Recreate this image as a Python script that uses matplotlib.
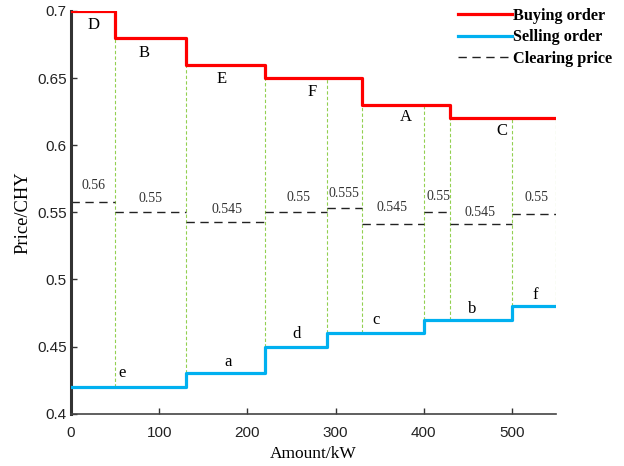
import matplotlib
matplotlib.use("Agg")
import matplotlib.pyplot as plt
import numpy as np

# Buying orders (step edges and prices)
buy_edges = [0, 50, 130, 220, 330, 430, 550]
buy_prices = [0.70, 0.68, 0.66, 0.65, 0.63, 0.62]
buy_names = ["D", "B", "E", "F", "A", "C"]

# Selling orders
sell_edges = [0, 130, 220, 290, 400, 500, 550]
sell_prices = [0.42, 0.43, 0.45, 0.46, 0.47, 0.48]
sell_names = ["e", "a", "d", "c", "b", "f"]

# Clearing segments
clear_edges = [0, 50, 130, 220, 290, 330, 400, 430, 500, 550]
clear_prices = [0.558, 0.55, 0.5425, 0.55, 0.5535, 0.5415, 0.55, 0.5415, 0.549]
clear_labels = ["0.56", "0.55", "0.545", "0.55", "0.555", "0.545", "0.55", "0.545", "0.55"]

# label positions
buy_label_x = [25, 83, 171, 274, 380, 489]
buy_label_y = [0.6896, 0.6685, 0.6493, 0.6394, 0.6208, 0.6106]
sell_label_x = [58, 178, 256, 346, 455, 527]
sell_label_y = [0.4305, 0.4382, 0.4591, 0.4697, 0.4777, 0.4884]
clear_label_x = [25, 90, 177, 258, 309, 364, 417, 464, 528]
clear_label_y = [0.5703, 0.5600, 0.5525, 0.5607, 0.5640, 0.5537, 0.5617, 0.5500, 0.5612]

SERIF = ["Liberation Serif", "DejaVu Serif"]
SANS = ["Liberation Sans", "DejaVu Sans"]

fig = plt.figure(figsize=(6.24, 4.66), dpi=100)
ax = fig.add_axes([0.1138, 0.1122, 0.7772, 0.8642])

def step_price(edges, prices, x):
    for i in range(len(prices)):
        if edges[i] <= x < edges[i + 1]:
            return prices[i]
    return prices[-1]

# green vertical lines at clearing segment boundaries
for xb in clear_edges[1:]:
    top = step_price(buy_edges, buy_prices, xb)
    bot = step_price(sell_edges, sell_prices, xb)
    ax.plot([xb, xb], [bot, top], color="#92D050", lw=0.8, ls=(0, (3, 2)), zorder=1)

# clearing price
for i in range(len(clear_prices)):
    ax.plot([clear_edges[i], clear_edges[i + 1]], [clear_prices[i]] * 2,
            color="#222222", lw=1.0, ls=(0, (6, 4)), zorder=2,
            label="Clearing price" if i == 0 else None)
    ax.text(clear_label_x[i], clear_label_y[i], clear_labels[i], fontsize=10,
            family=SERIF, color="#333333", ha="center", va="center")

# buy / sell step lines
bx = np.array(buy_edges)
by = np.array(buy_prices + [buy_prices[-1]])
ax.step(bx, by, where="post", color="#FF0000", lw=2.3, zorder=3, label="Buying order")
sx = np.array(sell_edges)
sy = np.array(sell_prices + [sell_prices[-1]])
ax.step(sx, sy, where="post", color="#00B0F0", lw=2.3, zorder=3, label="Selling order")

for n, x, y in zip(buy_names, buy_label_x, buy_label_y):
    ax.text(x, y, n, fontsize=12, family=SERIF, ha="center", va="center")
for n, x, y in zip(sell_names, sell_label_x, sell_label_y):
    ax.text(x, y, n, fontsize=12, family=SERIF, ha="center", va="center")

ax.set_xlim(0, 550)
ax.set_ylim(0.4, 0.7)
ax.set_xticks([0, 100, 200, 300, 400, 500])
ax.set_yticks([0.4, 0.45, 0.5, 0.55, 0.6, 0.65, 0.7])
ax.set_yticklabels(["0.4", "0.45", "0.5", "0.55", "0.6", "0.65", "0.7"])
for lab in ax.get_xticklabels() + ax.get_yticklabels():
    lab.set_family(SANS)
    lab.set_fontsize(11)
    lab.set_color("#222222")
ax.tick_params(direction="in", length=4, width=1, color="#333333")
ax.tick_params(axis="x", pad=9)
ax.tick_params(axis="y", pad=3)
ax.spines["top"].set_visible(False)
ax.spines["right"].set_visible(False)
ax.spines["left"].set_linewidth(2.2)
ax.spines["left"].set_color("#333333")
ax.spines["bottom"].set_linewidth(1.2)
ax.spines["bottom"].set_color("#444444")

ax.set_xlabel("Amount/kW", family=SERIF, fontsize=12.5, labelpad=4)
ax.set_ylabel("Price/CHY", family=SERIF, fontsize=13.3, labelpad=4)

handles, labels = ax.get_legend_handles_labels()
order = [labels.index("Buying order"), labels.index("Selling order"), labels.index("Clearing price")]
leg = fig.legend([handles[i] for i in order], [labels[i] for i in order],
                 loc="upper left", bbox_to_anchor=(0.716, 1.007), frameon=False,
                 prop={"family": SERIF, "weight": "bold", "size": 11.7},
                 handlelength=3.3, handletextpad=0.1, labelspacing=0.32,
                 borderpad=0.2)

fig.savefig("out.png", dpi=100)
